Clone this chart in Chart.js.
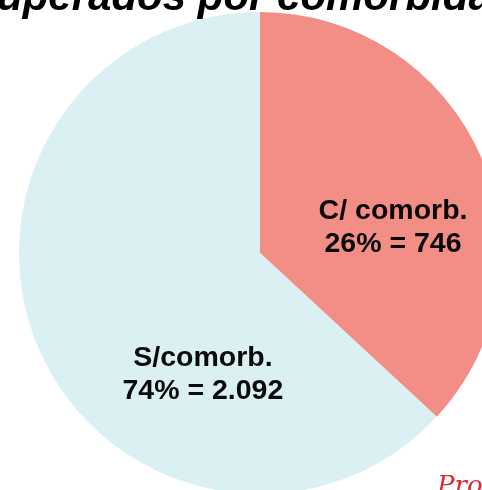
<!DOCTYPE html>
<html lang="pt">
<head>
    <meta charset="UTF-8">
    <title>Recuperados por comorbidades</title>
    <style>
        html, body {
            margin: 0;
            padding: 0;
            background: #fff;
            overflow: hidden;
        }
        #wrap {
            position: absolute;
            left: 0;
            top: 0;
        }
    </style>
</head>
<body>
    <div id="wrap">
        <canvas id="pieChart" width="520" height="506"></canvas>
    </div>

    <script src="https://cdn.jsdelivr.net/npm/chart.js@4.4.0/dist/chart.umd.min.js"></script>
    <script>
    // dados
    const categories = ['C/ comorb.', 'S/comorb.'];
    const counts = ['746', '2.092'];
    const percentLabels = ['26%', '74%'];
    // fatias como desenhadas na figura (ângulo medido)
    const sliceShares = [36.9, 63.1];
    const sliceColors = ['#F28E86', '#DAF0F2'];

    const titleText = 'Recuperados por comorbidades';

    // posição dos rótulos em fração do raio (x, primeira linha de base)
    const labelAnchors = [[0.552, -0.141], [-0.237, 0.469]];

    const labelPlugin = {
        id: 'sliceLabels',
        afterDraw(chart) {
            const ctx = chart.ctx;
            const arcs = chart.getDatasetMeta(0).data;
            ctx.save();
            ctx.fillStyle = '#0a0a0a';
            ctx.textAlign = 'center';
            ctx.textBaseline = 'alphabetic';
            ctx.font = 'bold 28.5px "Liberation Sans", Arial, sans-serif';
            arcs.forEach((arc, i) => {
                const r = arc.outerRadius;
                const x = arc.x + labelAnchors[i][0] * r;
                const y = arc.y + labelAnchors[i][1] * r;
                ctx.fillText(categories[i], x, y);
                ctx.fillText(percentLabels[i] + ' = ' + counts[i], x, y + 33);
            });

            // título (cortado no topo)
            ctx.textAlign = 'left';
            ctx.font = 'italic bold 42px "Liberation Sans", Arial, sans-serif';
            ctx.fillStyle = '#000';
            ctx.fillText(titleText, -80, 10);

            // marca d'água
            ctx.font = 'italic 26px "DejaVu Serif", serif';
            ctx.fillStyle = '#d62a36';
            ctx.fillText('Pro', 437, 494);
            ctx.restore();
        }
    };

    new Chart(document.getElementById('pieChart'), {
        type: 'pie',
        data: {
            labels: categories,
            datasets: [{
                data: sliceShares,
                backgroundColor: sliceColors,
                borderWidth: 0
            }]
        },
        options: {
            responsive: false,
            animation: false,
            layout: { padding: { left: 19, right: 19, top: 12, bottom: 12 } },
            plugins: {
                legend: { display: false },
                tooltip: { enabled: false }
            }
        },
        plugins: [labelPlugin]
    });
    </script>
</body>
</html>
